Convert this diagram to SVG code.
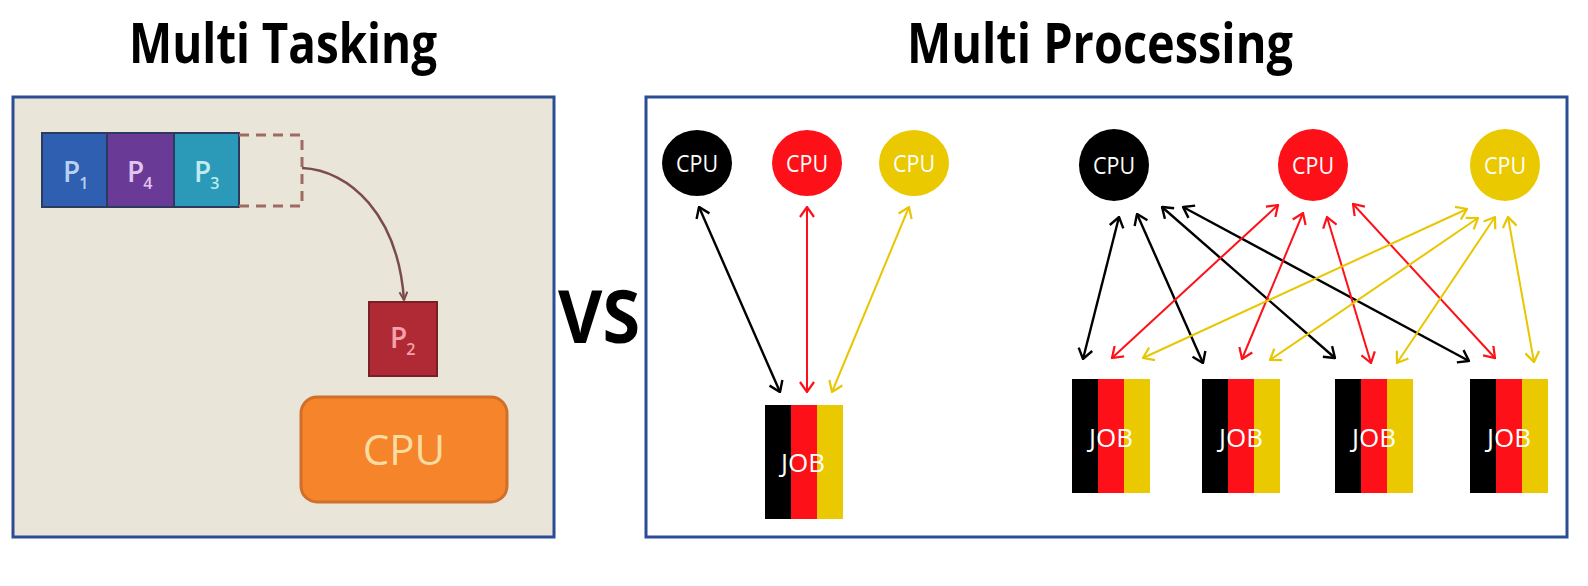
<svg xmlns="http://www.w3.org/2000/svg" width="1588" height="586" viewBox="0 0 1588 586">
<style>
.title{font-family:"Open Sans","Noto Sans","DejaVu Sans",sans-serif;font-weight:700;fill:#000}
.panel{stroke:#2b4d94;stroke-width:3}
.cpuT{font-family:"Open Sans","Noto Sans",sans-serif;font-size:24px;fill:#fff;text-anchor:middle}
.jobT{font-family:"Open Sans","Noto Sans",sans-serif;font-size:26px;fill:#fff;text-anchor:middle}
.pT{font-family:"Open Sans","Noto Sans",sans-serif;font-size:28px;font-weight:600}
.k{stroke:#000;stroke-width:2.4;fill:none;marker-start:url(#mk);marker-end:url(#mk)}
.r{stroke:#fe1019;stroke-width:2;fill:none;marker-start:url(#mr);marker-end:url(#mr)}
.y{stroke:#e8c600;stroke-width:2;fill:none;marker-start:url(#my);marker-end:url(#my)}
</style>
<defs>
<marker id="mk" viewBox="0 0 12 16" refX="11" refY="8" markerWidth="12" markerHeight="16" markerUnits="userSpaceOnUse" orient="auto-start-reverse"><path d="M1,1 L11,8 L1,15" fill="none" stroke="#000" stroke-width="2.4"/></marker>
<marker id="mr" viewBox="0 0 12 16" refX="11" refY="8" markerWidth="12" markerHeight="16" markerUnits="userSpaceOnUse" orient="auto-start-reverse"><path d="M1,1 L11,8 L1,15" fill="none" stroke="#fe1019" stroke-width="2.2"/></marker>
<marker id="my" viewBox="0 0 12 16" refX="11" refY="8" markerWidth="12" markerHeight="16" markerUnits="userSpaceOnUse" orient="auto-start-reverse"><path d="M1,1 L11,8 L1,15" fill="none" stroke="#e8c600" stroke-width="2.2"/></marker>
<marker id="mb" viewBox="0 0 10 10" refX="9" refY="5" markerWidth="10" markerHeight="10" markerUnits="userSpaceOnUse" orient="auto"><path d="M1,1 L9,5 L1,9" fill="none" stroke="#7a4d4a" stroke-width="2"/></marker>
<g id="job">
<rect x="0" y="0" width="26" height="114" fill="#000"/>
<rect x="26" y="0" width="26" height="114" fill="#fe1019"/>
<rect x="52" y="0" width="26" height="114" fill="#eac900"/>
</g>
</defs>
<rect width="1588" height="586" fill="#fff"/>

<!-- titles -->
<text class="title" x="129" y="63" font-size="56" textLength="308" lengthAdjust="spacingAndGlyphs">Multi Tasking</text>
<text class="title" x="907" y="63" font-size="56" textLength="386" lengthAdjust="spacingAndGlyphs">Multi Processing</text>
<text class="title" x="558" y="343" font-size="74" textLength="82" lengthAdjust="spacingAndGlyphs">VS</text>

<!-- left panel -->
<g id="left-panel">
<rect class="panel" x="13" y="97" width="541" height="440" fill="#e9e6d9"/>
</g>
<g id="queue">
<rect x="42" y="133" width="65" height="74" fill="#2f5fb0" stroke="#2c3a60" stroke-width="2"/>
<rect x="107" y="133" width="67" height="74" fill="#6a3b96" stroke="#2c3a60" stroke-width="2"/>
<rect x="174" y="133" width="65" height="74" fill="#2a9ab8" stroke="#2c3a60" stroke-width="2"/>
<text class="pT" x="63" y="182" fill="#b8d0f2">P<tspan font-size="16" dx="-1" dy="7">1</tspan></text>
<text class="pT" x="127" y="182" fill="#e2c6f2">P<tspan font-size="16" dx="-1" dy="7">4</tspan></text>
<text class="pT" x="194" y="182" fill="#bfeaf2">P<tspan font-size="16" dx="-1" dy="7">3</tspan></text>
</g>
<g id="slot">
<path d="M239,135 H302 V206 H239" fill="none" stroke="#9e6a62" stroke-width="3" stroke-dasharray="10,7"/>
</g>
<g id="p2">
<rect x="369" y="302" width="68" height="74" fill="#b02a35" stroke="#7a1f26" stroke-width="2"/>
<text class="pT" x="390" y="348" fill="#f5a2aa">P<tspan font-size="16" dx="-1" dy="7">2</tspan></text>
</g>
<g id="cpu-single">
<rect x="301" y="397" width="206" height="105" rx="16" fill="#f5842a" stroke="#d06e2a" stroke-width="3"/>
<text x="404" y="465" font-family="Open Sans, Noto Sans, sans-serif" font-size="42" fill="#f8dca0" text-anchor="middle">CPU</text>
</g>
<g id="connector-left">
<path d="M302,168 C350,170 398,215 404,300" fill="none" stroke="#7a4d4a" stroke-width="2.5" marker-end="url(#mb)"/>
</g>

<!-- right panel -->
<g id="right-panel">
<rect class="panel" x="646" y="97" width="921" height="440" fill="#fff"/>
</g>

<g id="cpu-a1"><ellipse cx="697" cy="163" rx="35" ry="33" fill="#000"/><text class="cpuT" x="697" y="172" textLength="42" lengthAdjust="spacingAndGlyphs">CPU</text></g>
<g id="cpu-a2"><ellipse cx="807" cy="163" rx="35" ry="33" fill="#fe1019"/><text class="cpuT" x="807" y="172" textLength="42" lengthAdjust="spacingAndGlyphs">CPU</text></g>
<g id="cpu-a3"><ellipse cx="914" cy="163" rx="35" ry="33" fill="#eac900"/><text class="cpuT" x="914" y="172" textLength="42" lengthAdjust="spacingAndGlyphs">CPU</text></g>
<g id="job-a"><use href="#job" x="765" y="405"/><text class="jobT" x="803" y="472">JOB</text></g>

<g id="cpu-b1"><ellipse cx="1114" cy="165" rx="35" ry="36" fill="#000"/><text class="cpuT" x="1114" y="174" textLength="42" lengthAdjust="spacingAndGlyphs">CPU</text></g>
<g id="cpu-b2"><ellipse cx="1313" cy="165" rx="35" ry="36" fill="#fe1019"/><text class="cpuT" x="1313" y="174" textLength="42" lengthAdjust="spacingAndGlyphs">CPU</text></g>
<g id="cpu-b3"><ellipse cx="1505" cy="165" rx="35" ry="36" fill="#eac900"/><text class="cpuT" x="1505" y="174" textLength="42" lengthAdjust="spacingAndGlyphs">CPU</text></g>

<g id="job-b1"><use href="#job" x="1072" y="379"/><text class="jobT" x="1111" y="447">JOB</text></g>
<g id="job-b2"><use href="#job" x="1202" y="379"/><text class="jobT" x="1241" y="447">JOB</text></g>
<g id="job-b3"><use href="#job" x="1335" y="379"/><text class="jobT" x="1374" y="447">JOB</text></g>
<g id="job-b4"><use href="#job" x="1470" y="379"/><text class="jobT" x="1509" y="447">JOB</text></g>

<g id="connectors">
<line class="k" x1="699" y1="207" x2="780" y2="392"/>
<line class="r" x1="807" y1="207" x2="807" y2="392"/>
<line class="y" x1="909" y1="207" x2="832" y2="392"/>

<line class="k" x1="1119" y1="217" x2="1083" y2="359"/>
<line class="k" x1="1137" y1="214" x2="1203" y2="363"/>
<line class="k" x1="1162" y1="207" x2="1335" y2="358"/>
<line class="k" x1="1183" y1="207" x2="1469" y2="361"/>

<line class="r" x1="1278" y1="205" x2="1112" y2="358"/>
<line class="r" x1="1303" y1="213" x2="1242" y2="359"/>
<line class="r" x1="1327" y1="217" x2="1371" y2="363"/>
<line class="r" x1="1353" y1="204" x2="1495" y2="358"/>

<line class="y" x1="1467" y1="209" x2="1143" y2="358"/>
<line class="y" x1="1478" y1="218" x2="1270" y2="360"/>
<line class="y" x1="1495" y1="217" x2="1397" y2="363"/>
<line class="y" x1="1508" y1="217" x2="1534" y2="362"/>
</g>
</svg>
